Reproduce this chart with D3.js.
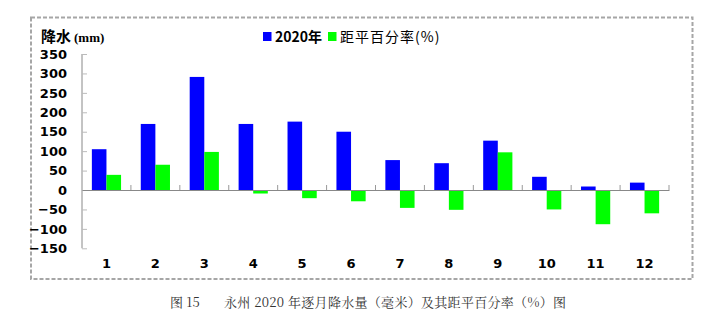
<!DOCTYPE html>
<html><head><meta charset="utf-8">
<script src="https://cdn.jsdelivr.net/npm/d3@7/dist/d3.min.js"></script>
<style>body{margin:0;background:#fff}svg{display:block}</style>
</head><body><svg id="c" width="722" height="327"></svg>
<script>
const months = ["1","2","3","4","5","6","7","8","9","10","11","12"];
const rain2020 = [105,170,291,170,176,150,77,69,127,34,9,19];
const anomalyPct = [39,65,98,-9,-21,-29,-46,-51,97,-50,-88,-60];
const yTicks = [350,300,250,200,150,100,50,0,-50,-100,-150];
const seriesNames = ["2020年","距平百分率(%)"];
const colors = ["#0000ff","#00ff00"];

const svg = d3.select("#c");
// dashed frame
svg.append("rect").attr("x",31).attr("y",17.5).attr("width",661.5).attr("height",261.5)
  .attr("fill","none").attr("stroke","#a6a6a6").attr("stroke-width",2).attr("stroke-dasharray","4,2");

const x = d3.scaleBand().domain(months).range([82,669]);
const y = d3.scaleLinear().domain([-150,350]).range([248.3,54]);

const tickFont = "'DejaVu Sans', Verdana, sans-serif";
// y axis
const yAxis = svg.append("g").attr("transform","translate(82,0)")
  .call(d3.axisLeft(y).tickValues(yTicks).tickSize(-5).tickPadding(12).tickFormat(d3.format("d")));
yAxis.select(".domain").attr("stroke","#888").attr("d","M0,54V248.3");
yAxis.selectAll(".tick line").attr("stroke","#bbb");
yAxis.selectAll(".tick text").attr("font-family",tickFont).attr("font-size",13).attr("font-weight","bold").attr("fill","#000").attr("dx",-3);

// bars
const bw = 14.6;
const g = svg.append("g");
g.selectAll("rect.b").data(rain2020).join("rect").attr("class","b")
  .attr("x",(d,i)=>x(months[i])+x.bandwidth()/2-bw).attr("width",bw)
  .attr("y",d=>y(Math.max(0,d))).attr("height",d=>Math.abs(y(d)-y(0))).attr("fill",colors[0]);
g.selectAll("rect.g").data(anomalyPct).join("rect").attr("class","g")
  .attr("x",(d,i)=>x(months[i])+x.bandwidth()/2).attr("width",bw)
  .attr("y",d=>y(Math.max(0,d))).attr("height",d=>Math.abs(y(d)-y(0))).attr("fill",colors[1]);

// x axis at zero
const xAxis = svg.append("g").attr("transform",`translate(0,${y(0)})`)
  .call(d3.axisBottom(x).tickSize(0).tickFormat(""));
xAxis.select(".domain").attr("stroke","#888").attr("stroke-width",1.2);
xAxis.selectAll(".tick").remove();
svg.append("g").selectAll("line").data(months).join("line")
  .attr("x1",d=>x(d)+x.step()).attr("x2",d=>x(d)+x.step())
  .attr("y1",y(0)).attr("y2",y(0)-5).attr("stroke","#999");
svg.append("g").selectAll("text").data(months).join("text")
  .attr("x",d=>x(d)+x.bandwidth()/2).attr("y",268).attr("text-anchor","middle")
  .attr("font-family",tickFont).attr("font-size",13).attr("font-weight","bold").text(d=>d);

// y title
const yt = svg.append("text").attr("x",41).attr("y",42).attr("font-family","'Noto Sans CJK SC', sans-serif").attr("font-size",15).attr("font-weight","bold");
yt.append("tspan").text("降水");
yt.append("tspan").attr("font-family","'Liberation Serif', serif").attr("font-size",13).attr("dx",3).text("(mm)");

// legend
const lg = svg.append("g").attr("font-family","'Noto Sans CJK SC', sans-serif").attr("font-size",14);
const legX = [263,328];
seriesNames.forEach((n,i)=>{
  lg.append("rect").attr("x",legX[i]).attr("y",32).attr("width",8.5).attr("height",9).attr("fill",colors[i]);
  lg.append("text").attr("x",legX[i]+12).attr("y",41.5).text(n).attr("font-weight", i===0?"bold":"normal").attr("letter-spacing",i===1?1:0);
});

// caption
const capFont = "'Noto Serif CJK SC','Liberation Serif','Noto Sans CJK SC',serif";
svg.append("text").attr("x",170).attr("y",307).attr("font-family",capFont)
  .attr("font-size",13).attr("fill","#333").text("图 15");
svg.append("text").attr("x",224).attr("y",307).attr("font-family",capFont)
  .attr("font-size",13).attr("fill","#333").attr("textLength",342).attr("lengthAdjust","spacing")
  .text("永州 2020 年逐月降水量（毫米）及其距平百分率（%）图");
</script></body></html>
